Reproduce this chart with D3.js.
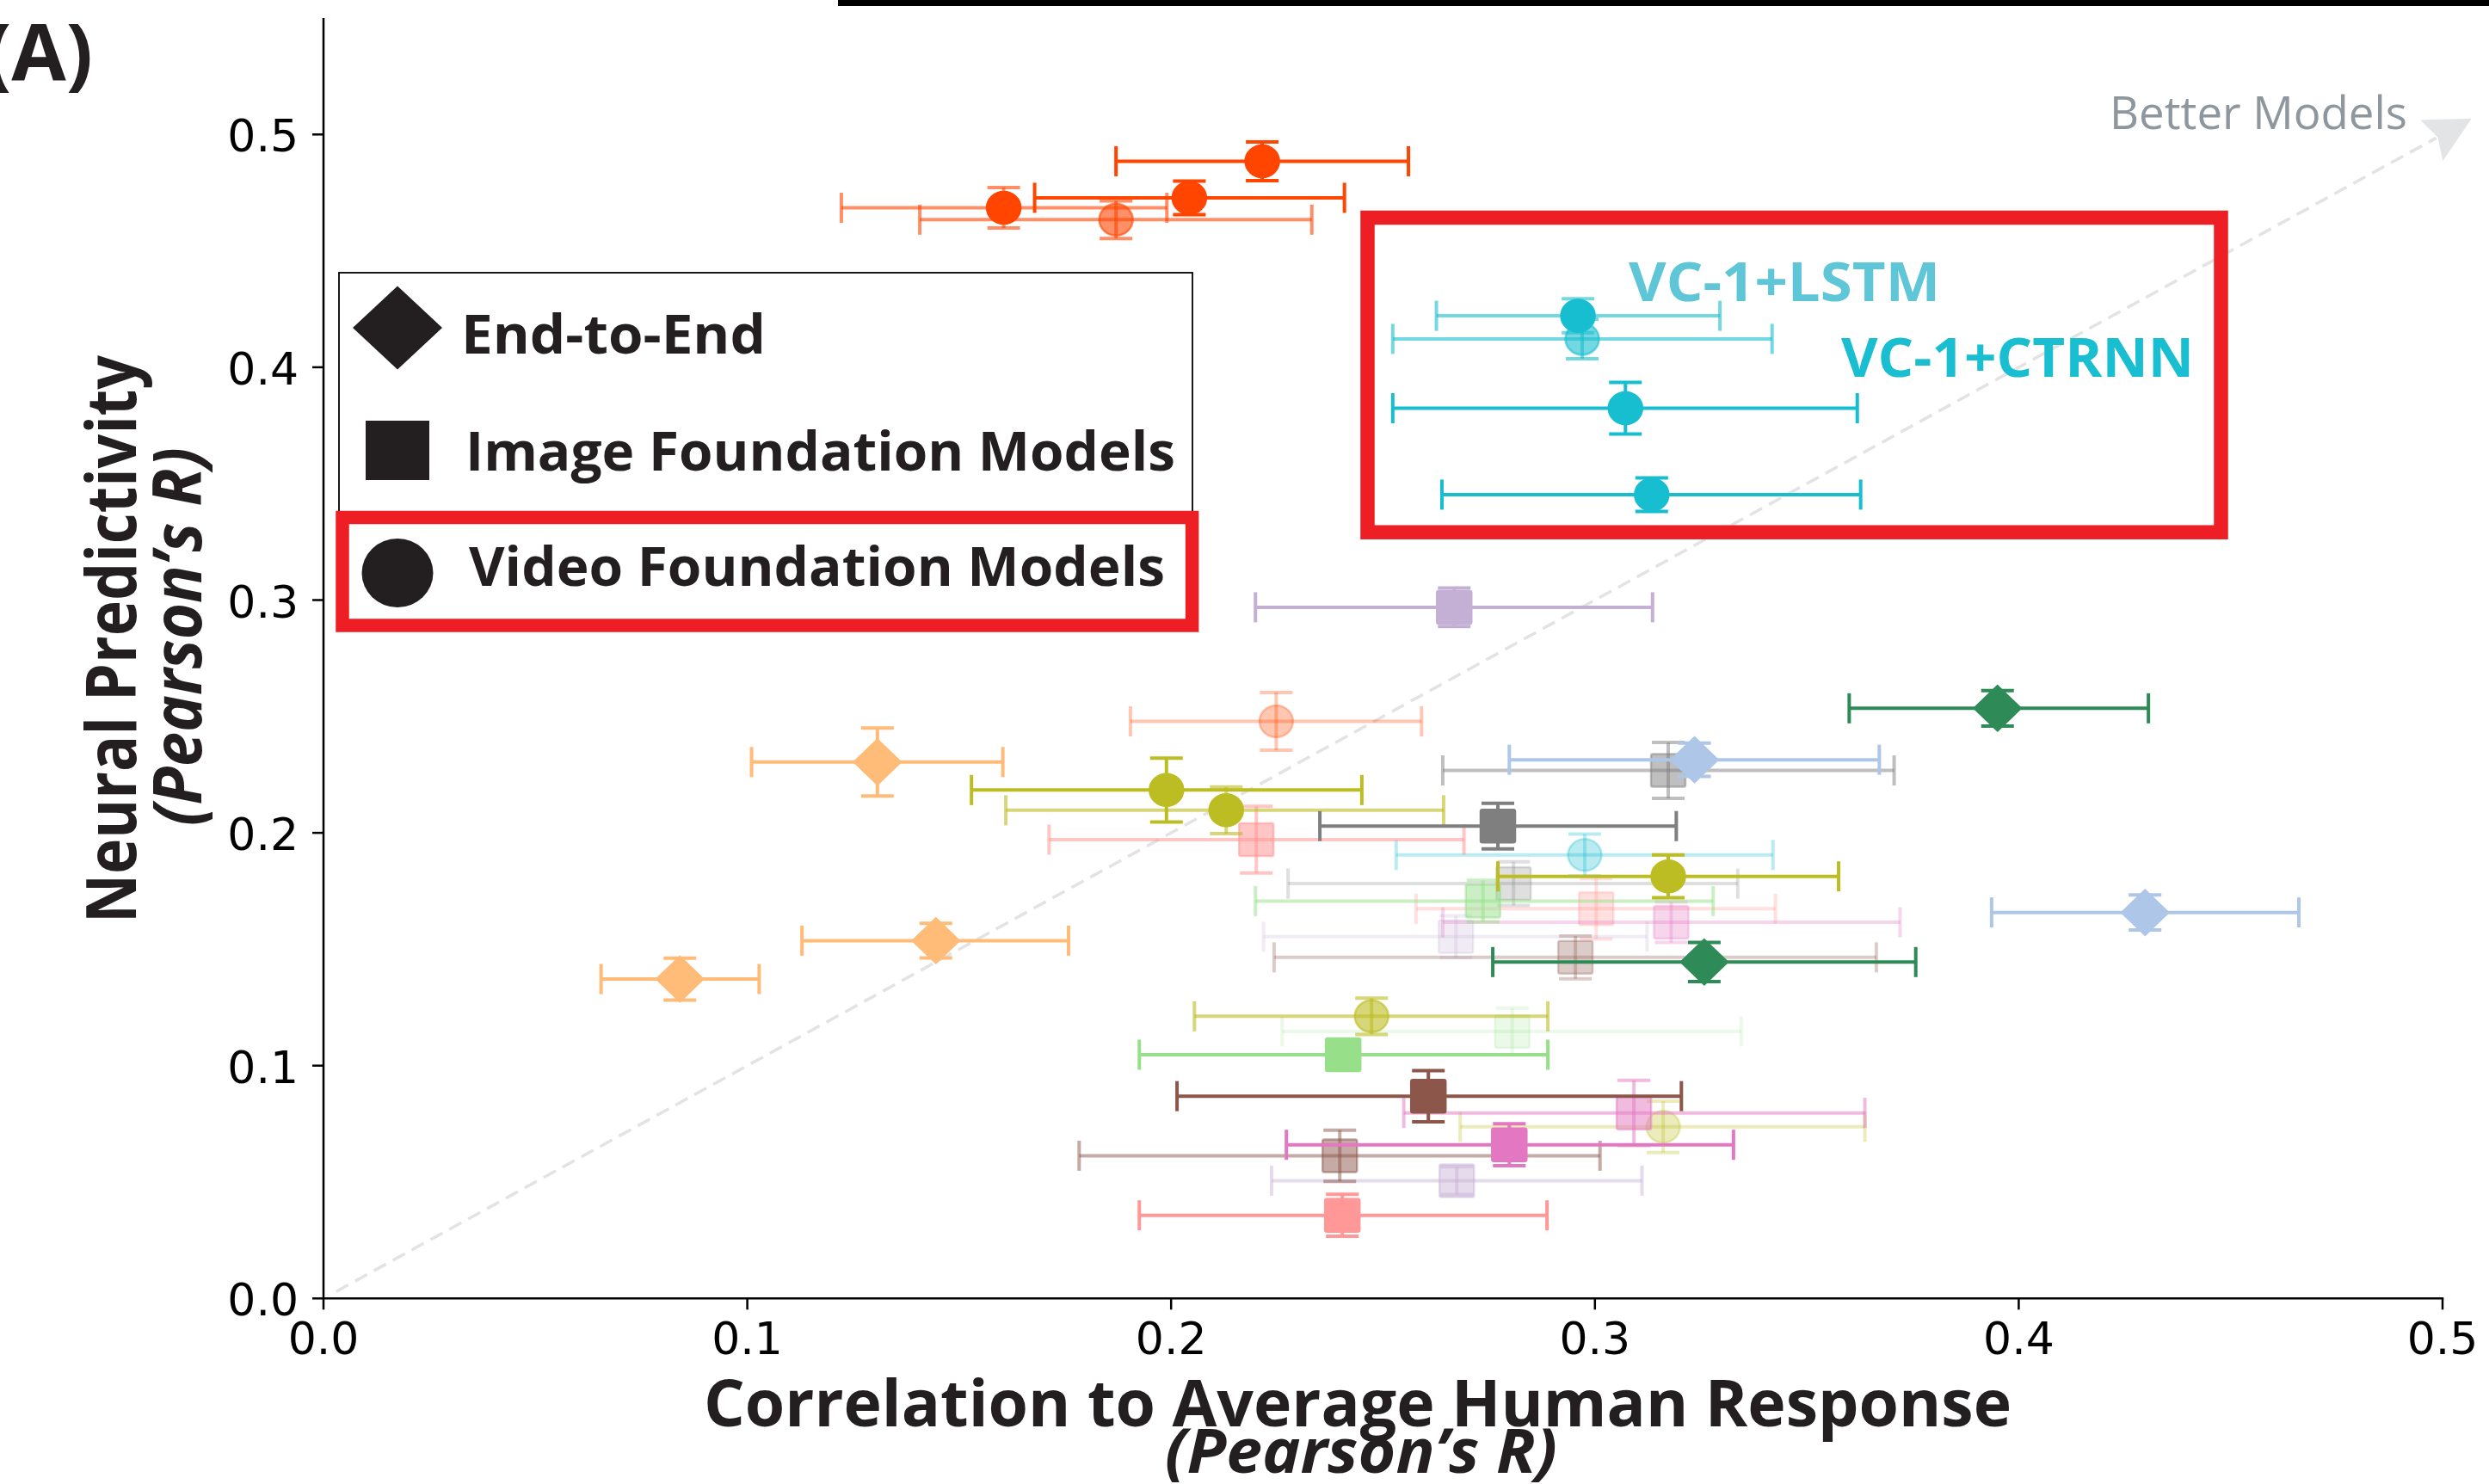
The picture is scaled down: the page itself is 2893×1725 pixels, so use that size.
<!DOCTYPE html>
<html>
<head>
<meta charset="utf-8">
<script src="https://cdn.jsdelivr.net/npm/d3@7"></script>
<style>
  html, body { margin: 0; padding: 0; background: #ffffff; }
  svg { display: block; }
</style>
</head>
<body>
<svg id="chart" width="2893" height="1725"></svg>
<script>
// ---------------- DATA ----------------
const modelType = [
  "video","video","video","video",
  "video","video","video","video","video",
  "image","image","image",
  "video",
  "e2e","e2e","e2e",
  "video","video","video","video","video",
  "image","image","image",
  "image","image","image",
  "e2e","e2e",
  "e2e","e2e",
  "image","image","image",
  "image","image","image",
  "image","image","image"
];
const humanR = [
  0.2215, 0.2043, 0.1605, 0.1870,
  0.2960, 0.2970, 0.3072, 0.3134, 0.2976,
  0.2668, 0.2672, 0.2674,
  0.2248,
  0.1307, 0.1445, 0.0841,
  0.1989, 0.2130, 0.3173, 0.2473, 0.3161,
  0.2201, 0.3003, 0.2404,
  0.2771, 0.3173, 0.2808,
  0.3235, 0.4298,
  0.3950, 0.3258,
  0.2736, 0.2805, 0.2406,
  0.3180, 0.3092, 0.2798,
  0.2607, 0.2954, 0.2398
];
const humanLo = [
  0.1870, 0.1678, 0.1222, 0.1407,
  0.2626, 0.2523, 0.2523, 0.2639, 0.2531,
  0.2199, 0.2218, 0.2237,
  0.1904,
  0.1010, 0.1129, 0.0655,
  0.1529, 0.1610, 0.2771, 0.2055, 0.2682,
  0.1712, 0.2578, 0.1925,
  0.2351, 0.2641, 0.2276,
  0.2798, 0.3936,
  0.3600, 0.2759,
  0.2199, 0.2262, 0.1925,
  0.2641, 0.2549, 0.2272,
  0.2014, 0.2243, 0.1783
];
const humanHi = [
  0.2560, 0.2409, 0.1990, 0.2332,
  0.3295, 0.3418, 0.3619, 0.3627, 0.3420,
  0.3136, 0.3123, 0.3111,
  0.2591,
  0.1603, 0.1758, 0.1028,
  0.2450, 0.2643, 0.3575, 0.2889, 0.3637,
  0.2691, 0.3426, 0.2887,
  0.3192, 0.3706, 0.3337,
  0.3671, 0.4661,
  0.4306, 0.3757,
  0.3279, 0.3345, 0.2889,
  0.3720, 0.3637, 0.3327,
  0.3204, 0.3664, 0.3012
];
const neuralR = [
  0.4885, 0.4728, 0.4685, 0.4634,
  0.4221, 0.4122, 0.3824, 0.3453, 0.1905,
  0.2969, 0.1554, 0.0506,
  0.2479,
  0.2304, 0.1537, 0.1372,
  0.2184, 0.2097, 0.1813, 0.1212, 0.0737,
  0.1971, 0.1674, 0.0357,
  0.2029, 0.2268, 0.1782,
  0.2314, 0.1658,
  0.2535, 0.1445,
  0.1707, 0.1147, 0.1047,
  0.1616, 0.0797, 0.0660,
  0.0869, 0.1465, 0.0613
];
const neuralErr = [
  0.0083, 0.0072, 0.0087, 0.0081,
  0.0073, 0.0085, 0.0111, 0.0072, 0.0090,
  0.0083, 0.0090, 0.0060,
  0.0124,
  0.0146, 0.0074, 0.0090,
  0.0137, 0.0100, 0.0092, 0.0078, 0.0110,
  0.0143, 0.0130, 0.0090,
  0.0098, 0.0120, 0.0094,
  0.0072, 0.0075,
  0.0076, 0.0084,
  0.0089, 0.0100, 0.0040,
  0.0087, 0.0140, 0.0090,
  0.0110, 0.0092, 0.0110
];
const xTicks = [0.0, 0.1, 0.2, 0.3, 0.4, 0.5];
const yTicks = [0.0, 0.1, 0.2, 0.3, 0.4, 0.5];
const xTickLabels = ["0.0", "0.1", "0.2", "0.3", "0.4", "0.5"];
const yTickLabels = ["0.0", "0.1", "0.2", "0.3", "0.4", "0.5"];
const legendLabels = ["End-to-End", "Image Foundation Models", "Video Foundation Models"];
const legendTypes = ["e2e", "image", "video"];

// ---------------- STYLES (kept apart from values) ----------------
const pointColor = [
  "#ff4500","#ff4500","#ff4500","#ff4500",
  "#17becf","#17becf","#17becf","#17becf","#17becf",
  "#c5b0d5","#c5b0d5","#c5b0d5",
  "#ff4500",
  "#ffbb78","#ffbb78","#ffbb78",
  "#bcbd22","#bcbd22","#bcbd22","#bcbd22","#bcbd22",
  "#ff9896","#ff9896","#ff9896",
  "#7f7f7f","#7f7f7f","#7f7f7f",
  "#aec7e8","#aec7e8",
  "#2e8b57","#2e8b57",
  "#98df8a","#98df8a","#98df8a",
  "#e377c2","#e377c2","#e377c2",
  "#8c564b","#8c564b","#8c564b"
];
const markerAlpha = [
  1, 1, 1, 0.6,
  1, 0.6, 1, 1, 0.3,
  1, 0.25, 0.45,
  0.3,
  1, 1, 1,
  1, 1, 1, 0.6, 0.3,
  0.55, 0.3, 1,
  1, 0.5, 0.25,
  1, 1,
  1, 1,
  0.5, 0.2, 1,
  0.3, 0.5, 1,
  1, 0.3, 0.5
];
const barAlpha = [
  1, 1, 0.6, 0.6,
  0.6, 0.6, 1, 1, 0.3,
  1, 0.25, 0.45,
  0.3,
  1, 1, 1,
  1, 0.6, 1, 0.6, 0.3,
  0.55, 0.3, 1,
  1, 0.5, 0.25,
  1, 1,
  1, 1,
  0.5, 0.2, 1,
  0.3, 0.5, 1,
  1, 0.3, 0.5
];

// ---------------- LAYOUT ----------------
const svg = d3.select("#chart");
const x = d3.scaleLinear().domain([0, 0.5]).range([376, 2839]);
const y = d3.scaleLinear().domain([0, 0.55]).range([1509.3, 21]);

const TICK_FONT = "'DejaVu Sans', sans-serif";
const TITLE_FONT = "'Open Sans', 'Noto Sans', sans-serif";

// top title fragment bar
svg.append("rect").attr("x", 974).attr("y", 0).attr("width", 2893 - 974).attr("height", 7).attr("fill", "#000");

// "(A)"
svg.append("text").text("(A)")
  .attr("x", 108).attr("y", 94)
  .attr("text-anchor", "end")
  .attr("font-family", TITLE_FONT).attr("font-weight", 700)
  .attr("font-size", 92).attr("fill", "#231f20");

// ---------------- Diagonal "Better Models" arrow ----------------
const p0 = [x(0.003), y(0.003)];
const pEnd = [x(0.4985), y(0.4985)];
const dx = pEnd[0] - p0[0], dy = pEnd[1] - p0[1];
const len = Math.hypot(dx, dy);
const ux = dx / len, uy = dy / len;
svg.append("line")
  .attr("x1", p0[0]).attr("y1", p0[1])
  .attr("x2", pEnd[0]).attr("y2", pEnd[1])
  .attr("stroke", "#e3e3e3").attr("stroke-width", 3.5)
  .attr("stroke-dasharray", "16 9");
{
  const notch = [pEnd[0] + ux * 2, pEnd[1] + uy * 2];
  const tip = [notch[0] + ux * 45, notch[1] + uy * 45];
  const back = [tip[0] - ux * 53, tip[1] - uy * 53];
  const nx = -uy, ny = ux;
  const b1 = [back[0] + nx * 27, back[1] + ny * 27];
  const b2 = [back[0] - nx * 27, back[1] - ny * 27];
  svg.append("path")
    .attr("d", `M${tip[0]},${tip[1]} L${b1[0]},${b1[1]} L${notch[0]},${notch[1]} L${b2[0]},${b2[1]} Z`)
    .attr("fill", "#e3e4e6");
}
svg.append("text").text("Better Models")
  .attr("x", 2452).attr("y", 150)
  .attr("font-family", TITLE_FONT).attr("font-weight", 400)
  .attr("font-size", 53).attr("fill", "#8e979e")
  .attr("textLength", 346).attr("lengthAdjust", "spacingAndGlyphs");

// ---------------- Data points ----------------
const idx = d3.range(humanR.length).sort((a, b) => markerAlpha[a] - markerAlpha[b]);
const gPts = svg.append("g");
const CAP_H = 17.5;   // half-length of x-error caps (px)
const CAP_W = 19;     // half-width of y-error caps (px)
const BAR_W = 4;

idx.forEach(i => {
  const g = gPts.append("g");
  const cx = x(humanR[i]), cy = y(neuralR[i]);
  const col = pointColor[i];
  const ba = barAlpha[i];
  // horizontal bar
  g.append("line")
    .attr("x1", x(humanLo[i])).attr("x2", x(humanHi[i]))
    .attr("y1", cy).attr("y2", cy)
    .attr("stroke", col).attr("stroke-opacity", ba).attr("stroke-width", BAR_W);
  [humanLo[i], humanHi[i]].forEach(v => {
    g.append("line")
      .attr("x1", x(v)).attr("x2", x(v))
      .attr("y1", cy - CAP_H).attr("y2", cy + CAP_H)
      .attr("stroke", col).attr("stroke-opacity", ba).attr("stroke-width", BAR_W);
  });
  // vertical bar
  const yt = y(neuralR[i] + neuralErr[i]), yb = y(neuralR[i] - neuralErr[i]);
  g.append("line")
    .attr("x1", cx).attr("x2", cx).attr("y1", yt).attr("y2", yb)
    .attr("stroke", col).attr("stroke-opacity", ba).attr("stroke-width", BAR_W);
  [yt, yb].forEach(v => {
    g.append("line")
      .attr("x1", cx - CAP_W).attr("x2", cx + CAP_W)
      .attr("y1", v).attr("y2", v)
      .attr("stroke", col).attr("stroke-opacity", ba).attr("stroke-width", BAR_W);
  });
  // marker
  const ma = markerAlpha[i];
  let m;
  if (modelType[i] === "video") {
    m = g.append("ellipse").attr("cx", cx).attr("cy", cy).attr("rx", 19.5).attr("ry", 18.5);
  } else if (modelType[i] === "image") {
    m = g.append("rect").attr("x", cx - 20).attr("y", cy - 19).attr("width", 40).attr("height", 38).attr("rx", 2);
  } else {
    m = g.append("path").attr("d", `M${cx},${cy - 26} L${cx + 27},${cy} L${cx},${cy + 26} L${cx - 27},${cy} Z`);
  }
  m.attr("fill", col).attr("fill-opacity", ma)
   .attr("stroke", col).attr("stroke-opacity", ma).attr("stroke-width", 2.5);
});

// ---------------- Axes ----------------
const axG = svg.append("g");
axG.append("line").attr("x1", x(0)).attr("x2", x(0)).attr("y1", y(0.55)).attr("y2", y(0))
  .attr("stroke", "#000").attr("stroke-width", 2.5);
axG.append("line").attr("x1", x(0) - 1.25).attr("x2", x(0.5) + 1.25).attr("y1", y(0)).attr("y2", y(0))
  .attr("stroke", "#000").attr("stroke-width", 2.5);

xTicks.forEach((t, k) => {
  axG.append("line").attr("x1", x(t)).attr("x2", x(t)).attr("y1", y(0)).attr("y2", y(0) + 13)
    .attr("stroke", "#000").attr("stroke-width", 2.5);
  axG.append("text").text(xTickLabels[k])
    .attr("x", x(t)).attr("y", y(0) + 65).attr("text-anchor", "middle")
    .attr("font-family", TICK_FONT).attr("font-size", 52).attr("fill", "#000");
});
yTicks.forEach((t, k) => {
  axG.append("line").attr("x1", x(0) - 13).attr("x2", x(0)).attr("y1", y(t)).attr("y2", y(t))
    .attr("stroke", "#000").attr("stroke-width", 2.5);
  axG.append("text").text(yTickLabels[k])
    .attr("x", x(0) - 29).attr("y", y(t) + 20).attr("text-anchor", "end")
    .attr("font-family", TICK_FONT).attr("font-size", 52).attr("fill", "#000");
});

// Axis titles
svg.append("text").text("Correlation to Average Human Response")
  .attr("x", 1578).attr("y", 1658).attr("text-anchor", "middle")
  .attr("font-family", TITLE_FONT).attr("font-weight", 700).attr("font-size", 76)
  .attr("fill", "#231f20")
  .attr("textLength", 1520).attr("lengthAdjust", "spacingAndGlyphs");
svg.append("text").text("(Pearson\u2019s R)")
  .attr("x", 1582).attr("y", 1712).attr("text-anchor", "middle")
  .attr("font-family", TITLE_FONT).attr("font-weight", 700).attr("font-style", "italic")
  .attr("font-size", 72).attr("fill", "#231f20")
  .attr("textLength", 456).attr("lengthAdjust", "spacingAndGlyphs");

svg.append("text").text("Neural Predictivity")
  .attr("transform", "translate(158,743) rotate(-90)")
  .attr("text-anchor", "middle")
  .attr("font-family", TITLE_FONT).attr("font-weight", 700).attr("font-size", 80)
  .attr("fill", "#231f20")
  .attr("textLength", 660).attr("lengthAdjust", "spacingAndGlyphs");
svg.append("text").text("(Pearson\u2019s R)")
  .attr("transform", "translate(234,740) rotate(-90)")
  .attr("text-anchor", "middle")
  .attr("font-family", TITLE_FONT).attr("font-weight", 700).attr("font-style", "italic")
  .attr("font-size", 78).attr("fill", "#231f20")
  .attr("textLength", 440).attr("lengthAdjust", "spacingAndGlyphs");

// ---------------- Legend ----------------
const lg = svg.append("g");
lg.append("rect").attr("x", 394).attr("y", 317).attr("width", 992).attr("height", 410)
  .attr("fill", "#fff").attr("stroke", "#000").attr("stroke-width", 1.8);
const legY = [381, 524, 666];
const legBase = [411, 547, 681];
const legTextX = [536, 541, 545];
const legTextLen = [354, 825, 809];
legendTypes.forEach((t, k) => {
  const cx = 462, cy = legY[k];
  if (t === "e2e") {
    lg.append("path").attr("d", `M${cx},${cy - 48.5} L${cx + 52},${cy} L${cx},${cy + 48.5} L${cx - 52},${cy} Z`).attr("fill", "#231f20");
  } else if (t === "image") {
    lg.append("rect").attr("x", cx - 37).attr("y", cy - 35).attr("width", 74).attr("height", 69).attr("fill", "#231f20");
  } else {
    lg.append("ellipse").attr("cx", cx).attr("cy", cy).attr("rx", 41.5).attr("ry", 40).attr("fill", "#231f20");
  }
  lg.append("text").text(legendLabels[k])
    .attr("x", legTextX[k]).attr("y", legBase[k])
    .attr("font-family", TITLE_FONT).attr("font-weight", 700).attr("font-size", 62)
    .attr("fill", "#231f20")
    .attr("textLength", legTextLen[k]).attr("lengthAdjust", "spacingAndGlyphs");
});

// ---------------- Highlight boxes ----------------
svg.append("rect").attr("x", 398).attr("y", 601.5).attr("width", 987.6).attr("height", 125.5)
  .attr("fill", "none").attr("stroke", "#ed1f24").attr("stroke-width", 15.5);
svg.append("rect").attr("x", 1589.5).attr("y", 253).attr("width", 992).attr("height", 365.7)
  .attr("fill", "none").attr("stroke", "#ed1f24").attr("stroke-width", 16.5);

svg.append("text").text("VC-1+LSTM")
  .attr("x", 1893).attr("y", 350)
  .attr("font-family", TITLE_FONT).attr("font-weight", 700).attr("font-size", 62)
  .attr("fill", "#5ec6d7")
  .attr("textLength", 362).attr("lengthAdjust", "spacingAndGlyphs");
svg.append("text").text("VC-1+CTRNN")
  .attr("x", 2140).attr("y", 437.5)
  .attr("font-family", TITLE_FONT).attr("font-weight", 700).attr("font-size", 62)
  .attr("fill", "#19bfd0")
  .attr("textLength", 410).attr("lengthAdjust", "spacingAndGlyphs");
</script>
</body>
</html>
